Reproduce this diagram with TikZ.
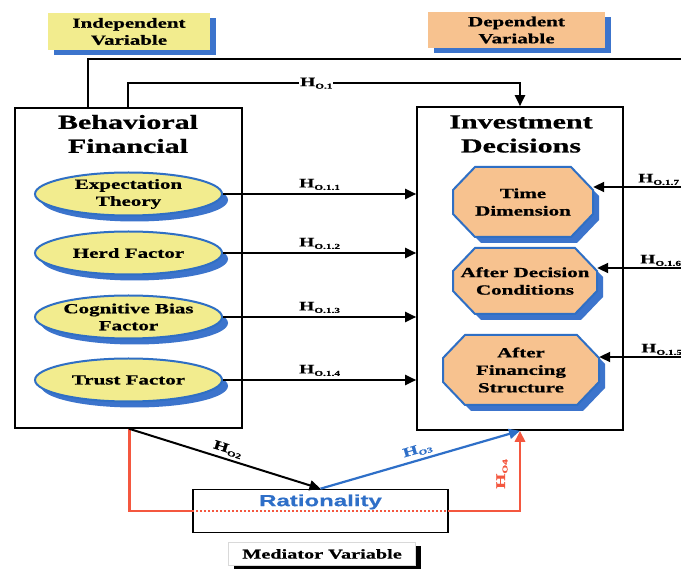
\documentclass[tikz,border=0pt]{standalone}
\usepackage{fontspec}
\setmainfont[FakeStretch=1.5,BoldFeatures={FakeBold=0.8}]{Liberation Serif}
\newfontfamily\ratfont[FakeStretch=1.5,BoldFeatures={FakeBold=0.6}]{Liberation Sans}
\usetikzlibrary{arrows.meta,shapes.geometric,shadows,calc}
\definecolor{yel}{HTML}{F2EC8E}
\definecolor{org}{HTML}{F7C28F}
\definecolor{bord}{HTML}{2F6FC4}
\definecolor{shd}{HTML}{3C74CC}
\definecolor{redl}{HTML}{F4573F}
\definecolor{bluel}{HTML}{2E6FC8}
\newcommand\Hlab[1]{\bfseries H\raisebox{-2.5pt}{\fontsize{7.5}{8}\selectfont #1}}
\newcommand\octnode[6]{%
 \fill[shd,shift={(#2+6,#3+6)}] (-#4+22,-#5) -- (#4-22,-#5) -- (#4,-#5+23) -- (#4,#5-23) -- (#4-22,#5) -- (-#4+22,#5) -- (-#4,#5-23) -- (-#4,-#5+23) -- cycle;
 \filldraw[fill=org,draw=bord,line width=2pt,shift={(#2,#3)}] (-#4+22,-#5) -- (#4-22,-#5) -- (#4,-#5+23) -- (#4,#5-23) -- (#4-22,#5) -- (-#4+22,#5) -- (-#4,#5-23) -- (-#4,-#5+23) -- cycle;
 \node[octtext,minimum width=2*#4,minimum height=2*#5] (#1) at (#2,#3) {#6};}
\begin{document}
\begin{tikzpicture}[x=1pt,y=-1pt,
  ln/.style={line width=2pt},
  arr/.style={line width=2pt,-{Triangle[length=11pt,width=10pt]}},
  bigbox/.style={draw, line width=1.6pt, fill=white},
  ell/.style={ellipse, draw=bord, line width=2pt, fill=yel, minimum width=187pt, minimum height=43pt, inner sep=0pt, align=center, font=\fontsize{14}{17}\selectfont\bfseries, drop shadow={shadow xshift=6pt, shadow yshift=-6pt, fill=shd, opacity=1}},
  octtext/.style={inner sep=0pt, align=center, font=\fontsize{14}{17.5}\selectfont\bfseries},
  varbox/.style={inner sep=0pt, align=center, font=\fontsize{14}{17}\selectfont\bfseries, drop shadow={shadow xshift=6pt, shadow yshift=-5pt, fill=shd, opacity=1}},
  title/.style={align=center, font=\fontsize{20}{24}\selectfont\bfseries, inner sep=0pt},
  hl/.style={font=\fontsize{13}{13}\selectfont, inner sep=1pt}
]
\useasboundingbox (0,0) rectangle (681,569);
\clip (0,0) rectangle (681,569);
\fill[white] (0,0) rectangle (681,569);

\node[varbox, fill=yel, minimum width=162pt, minimum height=37pt] (iv) at (129,31.5) {Independent\\Variable};
\node[varbox, fill=org, minimum width=177pt, minimum height=36pt] (dv) at (516.5,30) {Dependent\\Variable};

\node[bigbox, minimum width=227pt, minimum height=320pt] (bf) at (128.5,268) {};
\node[bigbox, minimum width=206pt, minimum height=323pt] (inv) at (520,268.5) {};

\node[title] (bft) at (128,134) {Behavioral\\Financial};
\node[title] (invt) at (521,134) {Investment\\Decisions};

\node[ell] (e1) at (128.5,194) {Expectation\\Theory};
\node[ell] (e2) at (128.5,253) {Herd Factor};
\node[ell] (e3) at (128.5,317) {Cognitive Bias\\Factor};
\node[ell] (e4) at (128.5,380) {Trust Factor};

\octnode{o1}{523}{202}{70}{35}{Time\\Dimension}
\octnode{o2}{525}{281}{72}{33}{After Decision\\Conditions}
\octnode{o3}{521}{370}{78}{35}{After\\Financing\\Structure}

\foreach \e/\l in {e1/1, e2/2, e3/3, e4/4}
  \draw[arr] (\e.east) -- (\e.east -| inv.west) node[midway, above=2pt, hl] {\Hlab{O.1.\l}};

\coordinate (r7) at (681,187);
\coordinate (r6) at (681,268);
\coordinate (r5) at (681,357);
\draw[arr] (r7) -- (r7 -| o1.east) node[pos=0.51, anchor=south west, hl] {\Hlab{O.1.7}};
\draw[arr] (r6) -- (r6 -| o2.east) node[pos=0.51, anchor=south west, hl] {\Hlab{O.1.6}};
\draw[arr] (r5) -- (r5 -| o3.east) node[pos=0.51, anchor=south west, hl] {\Hlab{O.1.5}};

\coordinate (tr) at (681,59);
\draw[ln] ([xshift=74pt]bf.north west) |- (tr);
\draw[arr] ([xshift=114pt]bf.north west) -- ++(0,-24) -| (inv.north) node[pos=0.24, fill=white, hl] {\Hlab{O.1}};

\node[draw, line width=1.6pt, fill=white, minimum width=255pt, minimum height=43pt] (rat) at (320.5,511) {};
\draw[line width=2.6pt, redl] ([xshift=115pt]bf.south west) |- (rat.west);
\draw[arr, line width=2.6pt, redl] (rat.east) -| (inv.south);
\draw[redl, line width=2pt, dash pattern=on 2pt off 2pt] (rat.west) -- (rat.east);
\draw[arr] ([xshift=115pt]bf.south west) -- (rat.north) node[midway, above=2pt, sloped, hl] {\Hlab{O2}};
\draw[arr, bluel, line width=2.2pt] (rat.north) -- (inv.south) node[midway, above=2pt, sloped, hl, text=bluel] {\Hlab{O3}};
\node[hl, text=redl, rotate=90] (h4) at (502,474) {\Hlab{O4}};
\node[font=\ratfont\fontsize{16}{16}\selectfont\bfseries, text=bluel] (ratt) at (320.5,502) {Rationality};

\node[draw=black!15, fill=white, line width=0.8pt, minimum width=187pt, minimum height=23pt, font=\fontsize{13.5}{14}\selectfont\bfseries, drop shadow={shadow xshift=5pt, shadow yshift=-4pt, fill=black, opacity=1}] (med) at (322,554) {Mediator Variable};
\end{tikzpicture}
\end{document}
